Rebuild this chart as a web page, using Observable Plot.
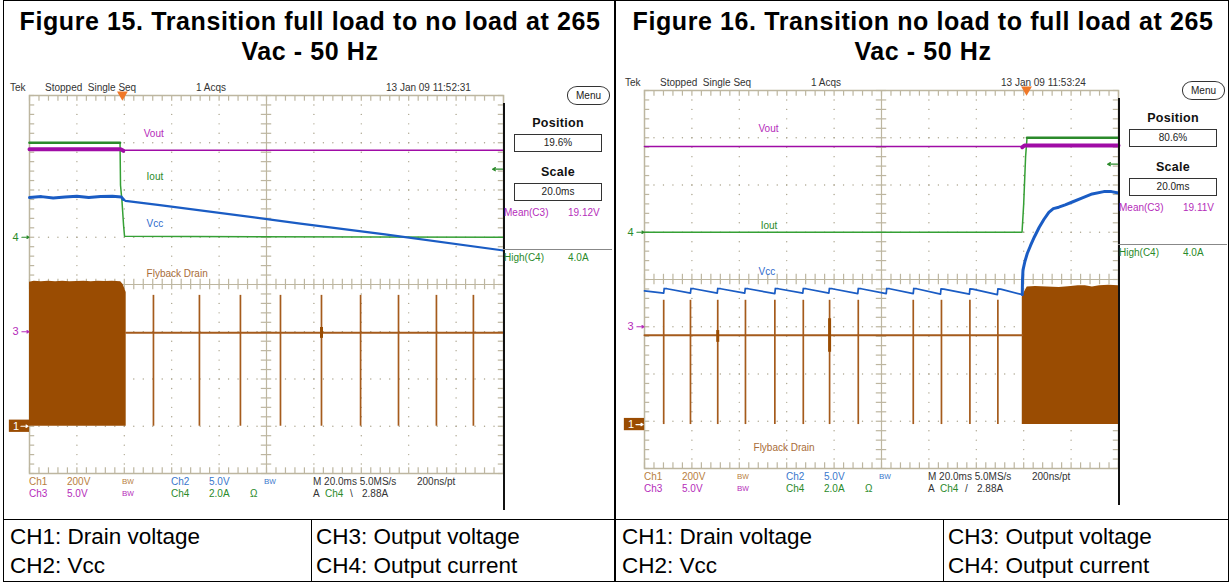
<!DOCTYPE html>
<html><head><meta charset="utf-8">
<script src="https://cdn.jsdelivr.net/npm/d3@7"></script>
<script src="https://cdn.jsdelivr.net/npm/@observablehq/plot@0.6"></script>
<style>
html,body{margin:0;padding:0;background:#fff}
#page{position:relative;width:1231px;height:583px;overflow:hidden;font-family:"Liberation Sans",Arial,Helvetica,sans-serif;color:#000}
.ln{position:absolute;background:#000}
.title{position:absolute;width:612px;text-align:center;font-weight:bold;font-size:25px;line-height:30px;letter-spacing:0.6px;white-space:nowrap}
.cap{position:absolute;font-size:22.5px;line-height:29px;white-space:nowrap}
.scope{position:absolute;width:612px;height:440px}
.scope svg{position:absolute;left:0;top:0;overflow:visible}
.t{position:absolute;font-size:10px;line-height:12px;white-space:nowrap;color:#333}
.lbl{position:absolute;width:88px;text-align:center;font-weight:bold;font-size:12.5px;line-height:16px;color:#111;letter-spacing:0.3px}
.box{position:absolute;border:1px solid #333;text-align:center;font-size:10px;line-height:16px;color:#222;box-sizing:border-box;background:#fff}
</style></head><body><div id="page"></div>
<script>
// ---------------- DATA (time in ms, value in screen divisions) ----------------
const titles15 = ["Figure 15. Transition full load to no load at 265", "Vac - 50 Hz"];
const titles16 = ["Figure 16. Transition no load to full load at 265", "Vac - 50 Hz"];
const capLeft = ["CH1: Drain voltage", "CH2: Vcc"];
const capRight = ["CH3: Output voltage", "CH4: Output current"];

const timeDivs = [0,20,40,60,80,100,120,140,160,180,200];   // 20 ms/div
const valueDivs = [-4,-3,-2,-1,0,1,2,3,4];

// Figure 15 traces
const vout15Thick = [[0,2.86],[38.6,2.86],[39.6,2.83]];
const vout15Thin = [[39.6,2.84],[200,2.84]];
const iout15 = [[0,3.0],[38.2,3.0],[38.4,2.1],[39.0,1.78],[39.7,1.25],[40.1,1.02],[200,1.0]];
const iout15Thick = [[0,3.0],[38.2,3.0]];
const vcc15Thick = [[0,1.84],[5,1.86],[10,1.83],[15,1.85],[20,1.87],[25,1.84],[30,1.86],[35,1.87],[38.8,1.85],[39.6,1.80]];
const vcc15 = [[39.6,1.80],[40.5,1.77],[55,1.68],[114.3,1.29],[150,1.06],[200,0.72]];
const drain15Top = [[0,0.05],[2,0.07],[5,0.06],[8,0.07],[11,0.06],[14,0.07],[17,0.06],[20,0.065],[23,0.07],[26,0.06],[29,0.07],[32,0.065],[35,0.07],[38.5,0.06],[39.5,0.0],[40.8,-0.17]];
const drain15Line = [[40.8,-1.02],[200,-1.02]];
const spikes15 = [52.3,71.7,89.0,105.9,123.2,139.7,155.7,171.7,187.3];
const spikeTop15 = -0.23;
const blobs15 = [[123.2,-1.14,-0.91]];

// Figure 16 traces
const vout16Thin = [[0,2.815],[159.6,2.815]];
const vout16Thick = [[159.4,2.80],[160.3,2.836],[200,2.836]];
const iout16 = [[0,1.0],[159.3,1.0],[160.0,1.6],[160.8,2.6],[161.4,3.0],[200,3.0]];
const iout16Thick = [[161.4,3.0],[200,3.0]];
const vcc16Saw = [[0,-0.24],[8.1,-0.29],[8.3,-0.19],[9.5,-0.195],[19.4,-0.29],[19.6,-0.19],[20.8,-0.195],[30.7,-0.29],[30.9,-0.19],[32.1,-0.195],[42.3,-0.29],[42.5,-0.19],[43.7,-0.195],[55.0,-0.30],[55.2,-0.19],[56.4,-0.195],[66.8,-0.29],[67.0,-0.19],[68.2,-0.195],[77.8,-0.29],[78.0,-0.19],[79.2,-0.195],[90.0,-0.30],[90.2,-0.19],[91.4,-0.195],[102.0,-0.30],[102.2,-0.19],[103.4,-0.195],[113.4,-0.30],[113.6,-0.19],[114.8,-0.195],[124.9,-0.31],[125.1,-0.20],[126.3,-0.205],[137.1,-0.31],[137.3,-0.20],[138.5,-0.205],[148.9,-0.32],[149.1,-0.20],[150.3,-0.205],[159.4,-0.32]];
const vcc16Rise = [[159.4,-0.32],[159.5,0.0],[159.7,0.2],[160.5,0.38],[161.5,0.55],[162.9,0.72],[164.5,0.9],[166.5,1.1],[168.5,1.27],[170.6,1.42],[172.5,1.50],[174.8,1.53],[177.5,1.58],[180.5,1.64],[184.5,1.72],[188.9,1.81],[193.8,1.86],[197,1.86],[200,1.83]];
const drain16Line = [[0,-1.18],[159.4,-1.18]];
const spikes16 = [8.1,19.4,30.9,42.6,55.0,67.0,78.1,90.2,113.4,125.3,137.3,149.1];
const spikeTop16 = -0.44;
const blobs16 = [[30.9,-1.33,-1.08],[78.1,-1.54,-0.83]];
const drain16Top = [[159.4,-0.37],[160.5,-0.25],[161.5,-0.16],[165,-0.15],[170,-0.16],[175,-0.17],[180,-0.15],[183,-0.13],[186,-0.13],[189,-0.16],[192,-0.13],[196,-0.12],[200,-0.13]];

// ---------------- STYLE ----------------
const GRAT = "#bdb6a0";
const C_VOUT = "#a00ca6", C_IOUT = "#35a035", C_VCC = "#1a5cc4", C_DRAIN = "#9a4c02", C_DLINE = "#a55b1c";
const T_VOUT = "#b52cba", T_IOUT = "#2a8a2a", T_VCC = "#2f6acc", T_DRAIN = "#a86c38", T_CH1 = "#b8803e", T_CH2 = "#3a78cc";
const FONT = "Liberation Sans, Arial, sans-serif";

const page = document.getElementById("page");
const pts = a => a.map(([t, v]) => ({t, v}));
function div(cls, css, text, parent) {
  const d = document.createElement("div");
  d.className = cls;
  Object.assign(d.style, css);
  if (text != null) d.innerHTML = text;
  (parent || page).appendChild(d);
  return d;
}

// ---------------- TABLE FRAME ----------------
div("ln", {left:"3px", top:"0px", width:"1226px", height:"1px"});
div("ln", {left:"3px", top:"581px", width:"1226px", height:"1px"});
div("ln", {left:"3px", top:"0px", width:"1px", height:"582px"});
div("ln", {left:"1228px", top:"0px", width:"1px", height:"582px"});
div("ln", {left:"614px", top:"0px", width:"1.5px", height:"582px"});
div("ln", {left:"3px", top:"519px", width:"1226px", height:"1px"});
div("ln", {left:"311px", top:"519px", width:"1px", height:"63px"});
div("ln", {left:"943px", top:"519px", width:"1px", height:"63px"});

// titles
div("title", {left:"4px", top:"6px"}, titles15[0]);
div("title", {left:"4px", top:"36px"}, titles15[1]);
div("title", {left:"617px", top:"6px"}, titles16[0]);
div("title", {left:"617px", top:"36px"}, titles16[1]);

// captions
[[10, capLeft], [316, capRight], [622, capLeft], [948, capRight]].forEach(([x, arr]) => {
  arr.forEach((s, i) => div("cap", {left: x + "px", top: (522 + i * 29) + "px"}, s));
});

// ---------------- GRATICULE ----------------
const minorT = d3.range(timeDivs[0], timeDivs[timeDivs.length - 1] + 0.01, 4);
const minorV = d3.range(valueDivs[0], valueDivs[valueDivs.length - 1] + 0.001, 0.2).map(v => +v.toFixed(2));
const centerT = 100;
const innerT = timeDivs.slice(1, -1).filter(t => t !== centerT);
const innerV = valueDivs.slice(1, -1).filter(v => v !== 0);
const gridDots = [
  ...innerT.flatMap(t => minorV.slice(1, -1).map(v => ({t, v}))),
  ...innerV.flatMap(v => minorT.slice(1, -1).map(t => ({t, v})))
];

function graticule() {
  return [
    Plot.dot(gridDots, {x: "t", y: "v", r: 0.7, fill: "#aaa38c", stroke: null}),
    Plot.ruleX([centerT], {stroke: GRAT, strokeWidth: 1.2}),
    Plot.ruleY([0], {stroke: GRAT, strokeWidth: 1.2}),
    Plot.ruleX(minorT, {x: d => d, y1: () => -0.11, y2: () => 0.11, stroke: GRAT, strokeWidth: 1.2}),
    Plot.ruleY(minorV, {y: d => d, x1: () => centerT - 2.2, x2: () => centerT + 2.2, stroke: GRAT, strokeWidth: 1.2}),
    Plot.ruleX(minorT, {x: d => d, y1: () => 4, y2: () => 3.88, stroke: GRAT, strokeWidth: 1.2}),
    Plot.ruleX(minorT, {x: d => d, y1: () => -4, y2: () => -3.88, stroke: GRAT, strokeWidth: 1.2}),
    Plot.ruleY(minorV, {y: d => d, x1: () => 0, x2: () => 2.2, stroke: GRAT, strokeWidth: 1.2}),
    Plot.ruleY(minorV, {y: d => d, x1: () => 197.8, x2: () => 200, stroke: GRAT, strokeWidth: 1.2}),
    Plot.frame({stroke: GRAT, strokeWidth: 1.5})
  ];
}

function chMarks(g1, trigT, labels) {
  const m = [];
  m.push(Plot.text([1], {x: () => 0, y: d => d, text: () => "4", dx: -11, textAnchor: "end", fill: T_IOUT, fontSize: 11, fontFamily: FONT}));
  m.push(Plot.arrow([1], {x1: () => -3.2, x2: () => -0.2, y1: d => d, y2: d => d, stroke: T_IOUT, strokeWidth: 1.2, headLength: 4}));
  m.push(Plot.text([-1], {x: () => 0, y: d => d, text: () => "3", dx: -11, textAnchor: "end", fill: T_VOUT, fontSize: 11, fontFamily: FONT}));
  m.push(Plot.arrow([-1], {x1: () => -3.2, x2: () => -0.2, y1: d => d, y2: d => d, stroke: T_VOUT, strokeWidth: 1.2, headLength: 4}));
  m.push(Plot.rect([g1], {x1: () => -8.5, x2: () => 0, y1: d => d - 0.13, y2: d => d + 0.13, fill: C_DRAIN}));
  m.push(Plot.text([g1], {x: () => -7, y: d => d, text: () => "1", textAnchor: "start", fill: "#fff", fontSize: 11, fontFamily: FONT}));
  m.push(Plot.arrow([g1], {x1: () => -3.6, x2: () => -0.6, y1: d => d, y2: d => d, stroke: "#fff", strokeWidth: 1.2, headLength: 4}));
  m.push(Plot.dot([trigT], {x: d => d, y: () => 4, symbol: "triangle", rotate: 180, r: 4, fill: "#f07828", stroke: null, dy: -1}));
  m.push(Plot.arrow([1 + 2.88 / 2.0], {x1: () => 199.6, x2: () => 195.4, y1: d => d, y2: d => d, stroke: T_IOUT, strokeWidth: 1.2, headLength: 4}));
  labels.forEach(([txt, t, v, col]) => {
    m.push(Plot.text([txt], {x: () => t, y: () => v, text: d => d, textAnchor: "start", fill: col, fontSize: 10, fontFamily: FONT}));
  });
  return m;
}

function buildScope(left, top, cfg) {
  const el = div("scope", {left: left + "px", top: top + "px"});
  const marks = [
    ...graticule(),
    Plot.areaY(pts(cfg.drainTop), {x: "t", y1: () => cfg.g1, y2: "v", fill: C_DRAIN, curve: "linear"}),
    Plot.line(pts(cfg.drainLine), {x: "t", y: "v", stroke: C_DLINE, strokeWidth: 2}),
    Plot.ruleX(cfg.spikes, {x: d => d, y1: () => cfg.g1, y2: () => cfg.spikeTop, stroke: C_DLINE, strokeWidth: 1.7}),
    Plot.ruleX(cfg.blobs, {x: d => d[0], y1: d => d[1], y2: d => d[2], stroke: C_DRAIN, strokeWidth: 3}),
    Plot.line(pts(cfg.iout), {x: "t", y: "v", stroke: C_IOUT, strokeWidth: 1.5}),
    Plot.line(pts(cfg.ioutThick), {x: "t", y: "v", stroke: "#2b8a2b", strokeWidth: 2.6}),
    Plot.line(pts(cfg.voutThin), {x: "t", y: "v", stroke: C_VOUT, strokeWidth: 1.6}),
    Plot.line(pts(cfg.voutThick), {x: "t", y: "v", stroke: C_VOUT, strokeWidth: 4}),
    Plot.line(pts(cfg.vccThin), {x: "t", y: "v", stroke: C_VCC, strokeWidth: cfg.vccThinW}),
    Plot.line(pts(cfg.vccThick), {x: "t", y: "v", stroke: C_VCC, strokeWidth: 3}),
    ...chMarks(cfg.g1, cfg.trig, cfg.labels)
  ];
  const svg = Plot.plot({
    width: 612, height: 440,
    marginLeft: 29, marginRight: 109, marginTop: 17, marginBottom: 45,
    x: {domain: [timeDivs[0], timeDivs[timeDivs.length - 1]], axis: null},
    y: {domain: [valueDivs[0], valueDivs[valueDivs.length - 1]], axis: null},
    style: {background: "transparent", overflow: "visible"},
    marks
  });
  el.appendChild(svg);

  div("ln", {left: "503px", top: "25px", width: "1.5px", height: "407px", background: "#111"}, null, el);

  div("t", {left: "10px", top: "4px"}, "Tek", el);
  div("t", {left: "45px", top: "4px"}, "Stopped&nbsp;&nbsp;Single Seq", el);
  div("t", {left: "196px", top: "4px"}, "1 Acqs", el);
  div("t", {left: "386px", top: "4px"}, cfg.date, el);

  div("box", {left: "567px", top: "8px", width: "43px", height: "19px", borderRadius: "10px / 9px", lineHeight: "17px"}, "Menu", el);
  div("lbl", {left: "514px", top: "37px"}, "Position", el);
  div("box", {left: "514px", top: "56px", width: "88px", height: "18px"}, cfg.pos, el);
  div("lbl", {left: "514px", top: "86px"}, "Scale", el);
  div("box", {left: "514px", top: "105px", width: "88px", height: "18px"}, "20.0ms", el);
  div("t", {left: "504px", top: "129px", color: T_VOUT}, "Mean(C3)", el);
  div("t", {left: "568px", top: "129px", color: T_VOUT}, cfg.mean, el);
  div("ln", {left: "503px", top: "171px", width: "109px", height: "1px", background: "#888"}, null, el);
  div("t", {left: "504px", top: "174px", color: T_IOUT}, "High(C4)", el);
  div("t", {left: "568px", top: "174px", color: T_IOUT}, "4.0A", el);

  const r1 = "398px", r2 = "410px";
  div("t", {left: "29px", top: r1, color: T_CH1}, "Ch1", el);
  div("t", {left: "67px", top: r1, color: T_CH1}, "200V", el);
  div("t", {left: "122px", top: r1, color: T_CH1, fontSize: "8px"}, "B<span style='font-size:7px'>W</span>", el);
  div("t", {left: "171px", top: r1, color: T_CH2}, "Ch2", el);
  div("t", {left: "209px", top: r1, color: T_CH2}, "5.0V", el);
  div("t", {left: "264px", top: r1, color: T_CH2, fontSize: "8px"}, "B<span style='font-size:7px'>W</span>", el);
  div("t", {left: "29px", top: r2, color: T_VOUT}, "Ch3", el);
  div("t", {left: "67px", top: r2, color: T_VOUT}, "5.0V", el);
  div("t", {left: "122px", top: r2, color: T_VOUT, fontSize: "8px"}, "B<span style='font-size:7px'>W</span>", el);
  div("t", {left: "171px", top: r2, color: T_IOUT}, "Ch4", el);
  div("t", {left: "209px", top: r2, color: T_IOUT}, "2.0A", el);
  div("t", {left: "250px", top: r2, color: T_IOUT}, "Ω", el);
  div("t", {left: "313px", top: r1}, "M 20.0ms 5.0MS/s", el);
  div("t", {left: "417px", top: r1}, "200ns/pt", el);
  div("t", {left: "313px", top: r2}, "A", el);
  div("t", {left: "325px", top: r2, color: T_IOUT}, "Ch4", el);
  div("t", {left: "350px", top: r2}, cfg.edge, el);
  div("t", {left: "362px", top: r2}, "2.88A", el);
}

buildScope(0, 78, {
  g1: -3, trig: 0.196 * 200, date: "13 Jan 09 11:52:31", pos: "19.6%", mean: "19.12V", edge: "\\",
  drainTop: drain15Top, drainLine: drain15Line, spikes: spikes15, spikeTop: spikeTop15, blobs: blobs15,
  iout: iout15, ioutThick: iout15Thick, voutThin: vout15Thin, voutThick: vout15Thick,
  vccThin: vcc15, vccThinW: 2.2, vccThick: vcc15Thick,
  labels: [["Vout", 48.2, 3.2, T_VOUT], ["Iout", 49.4, 2.29, T_IOUT], ["Vcc", 49.4, 1.29, T_VCC], ["Flyback Drain", 49.4, 0.23, T_DRAIN]]
});

buildScope(615, 73, {
  g1: -3.07, trig: 0.806 * 200, date: "13 Jan 09 11:53:24", pos: "80.6%", mean: "19.11V", edge: "/",
  drainTop: drain16Top, drainLine: drain16Line, spikes: spikes16, spikeTop: spikeTop16, blobs: blobs16,
  iout: iout16, ioutThick: iout16Thick, voutThin: vout16Thin, voutThick: vout16Thick,
  vccThin: vcc16Saw, vccThinW: 1.7, vccThick: vcc16Rise,
  labels: [["Vout", 48.1, 3.2, T_VOUT], ["Iout", 49.0, 1.14, T_IOUT], ["Vcc", 48.1, 0.17, T_VCC], ["Flyback Drain", 46.0, -3.56, T_DRAIN]]
});
</script></body></html>
